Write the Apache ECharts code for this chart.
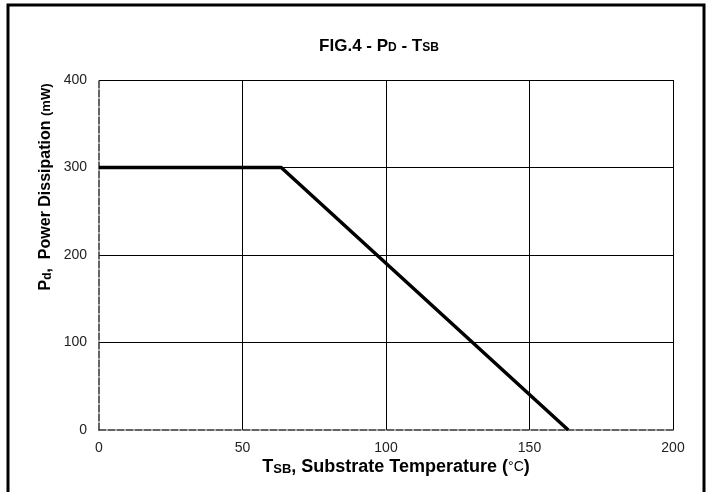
<!DOCTYPE html>
<html>
<head>
<meta charset="utf-8">
<script src="https://cdn.jsdelivr.net/npm/echarts@6/dist/echarts.min.js"></script>
<style>
html,body{margin:0;padding:0;background:#fff;}
#c{width:716px;height:492px;}
</style>
</head>
<body>
<div id="c"></div>
<script>
// Data
var temperature = [0, 63.5, 163.5];      // Tsb (°C)
var powerDissipation = [300, 300, 0];    // Pd (mW)
var xTicks = [0, 50, 100, 150, 200];
var yTicks = [0, 100, 200, 300, 400];

var chart = echarts.init(document.getElementById('c'), null, {renderer: 'canvas'});
var font = 'Arial, "Liberation Sans", Helvetica, sans-serif';

var option = {
  backgroundColor: '#fff',
  animation: false,
  grid: {left: 99, right: 43, top: 80, bottom: 62},
  xAxis: {
    type: 'value',
    min: xTicks[0], max: xTicks[xTicks.length - 1], interval: 50,
    axisLine: {show: true, onZero: false, lineStyle: {color: '#333', width: 1.5, type: [7, 2]}},
    axisTick: {show: false},
    axisLabel: {color: '#222', fontFamily: font, fontSize: 14, margin: 11},
    splitLine: {show: true, showMinLine: false, lineStyle: {color: '#000', width: 1}}
  },
  yAxis: {
    type: 'value',
    min: yTicks[0], max: yTicks[yTicks.length - 1], interval: 100,
    axisLine: {show: true, onZero: false, lineStyle: {color: '#333', width: 1.5, type: [7, 2]}},
    axisTick: {show: false},
    axisLabel: {color: '#222', fontFamily: font, fontSize: 14, margin: 12},
    splitLine: {show: true, showMinLine: false, lineStyle: {color: '#000', width: 1}}
  },
  series: [{
    type: 'line',
    data: temperature.map(function (t, i) { return [t, powerDissipation[i]]; }),
    symbol: 'none',
    lineStyle: {color: '#000', width: 3.5},
    z: 5
  }],
  graphic: [
    {
      type: 'polyline', silent: true, z: 100,
      shape: {points: [[8, 492], [8, 5], [704, 5], [704, 492]]},
      style: {stroke: '#000', lineWidth: 3, fill: null}
    },
    {
      type: 'text', z: 100,
      x: 379, y: 46,
      style: {
        align: 'center', verticalAlign: 'middle',
        text: '{b|FIG.4 - P}{s|D}{b| - T}{s|SB}',
        rich: {
          b: {fontFamily: font, fontWeight: 'bold', fontSize: 17, fill: '#000'},
          s: {fontFamily: font, fontWeight: 'bold', fontSize: 12, fill: '#000', padding: [4, 0, 0, 0]}
        }
      }
    },
    {
      type: 'text', z: 100,
      x: 396, y: 467,
      style: {
        align: 'center', verticalAlign: 'middle',
        text: '{b|T}{s|SB}{b|, Substrate Temperature (}{n|°C}{b|)}',
        rich: {
          b: {fontFamily: font, fontWeight: 'bold', fontSize: 18, fill: '#000'},
          s: {fontFamily: font, fontWeight: 'bold', fontSize: 13, fill: '#000', padding: [4, 0, 0, 0]},
          n: {fontFamily: font, fontSize: 14, fill: '#000'}
        }
      }
    },
    {
      type: 'text', z: 100,
      x: 46, y: 187, rotation: Math.PI / 2,
      style: {
        align: 'center', verticalAlign: 'middle',
        text: '{b|P}{s|d}{b|,  Power Dissipation }{m|(mW)}',
        rich: {
          b: {fontFamily: font, fontWeight: 'bold', fontSize: 16, fill: '#000'},
          s: {fontFamily: font, fontWeight: 'bold', fontSize: 12, fill: '#000', padding: [3, 0, 0, 0]},
          m: {fontFamily: font, fontWeight: 'bold', fontSize: 13, fill: '#000'}
        }
      }
    }
  ]
};
chart.setOption(option);
</script>
</body>
</html>
